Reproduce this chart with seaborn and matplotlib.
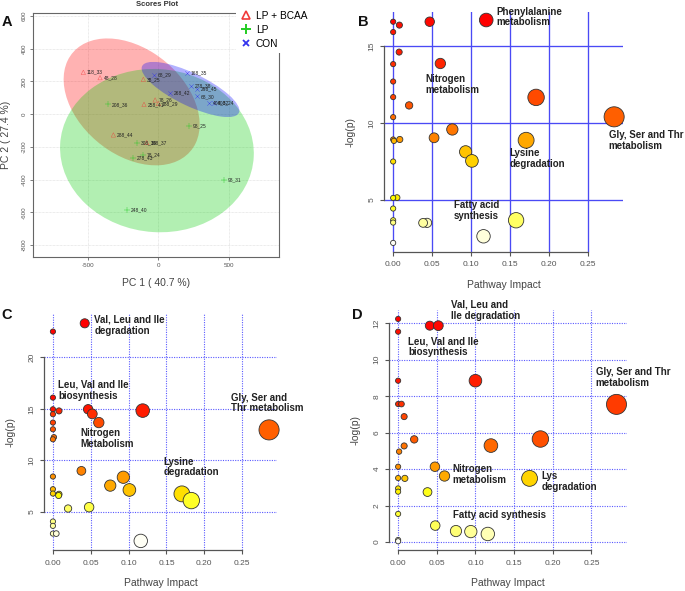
import numpy as np
import pandas as pd
import matplotlib
matplotlib.use("Agg")
import matplotlib.pyplot as plt
import seaborn as sns
from matplotlib.patches import Ellipse
from matplotlib.markers import MarkerStyle
from matplotlib.lines import Line2D
from matplotlib.colors import ListedColormap, hsv_to_rgb

plt.rcParams['font.family'] = ['Liberation Sans', 'DejaVu Sans']
plt.rcParams['lines.linewidth'] = 0.8

W, H = 685, 591

# ---------------- Panel A: PCA scores ----------------
group_names = ['LP + BCAA', 'LP', 'CON']
pca_labels = ['118_33', '48_28', '38_25', '78_26', '188_29', '258_41', '288_44', '188_37',
              '208_36', '98_25', '308_39', '78_24', '278_43', '98_31', '248_40',
              '68_29', '168_35', '278_38', '298_45', '268_42', '68_30', '408_32', '408_24']
pca_group = ['LP + BCAA'] * 8 + ['LP'] * 7 + ['CON'] * 8
pc1 = [-534, -415, -107, -23, 0, -102, -320, -83,
       -360, 221, -149, -111, -178, 470, -223,
       -31, 202, 235, 278, 85, 273, 363, 399]
pc2 = [256, 223, 213, 87, 65, 60, -127, -174,
       60, -72, -174, -249, -266, -404, -585,
       240, 254, 172, 152, 131, 109, 68, 68]
ell_cx = [-190, -10, 229]
ell_cy = [75, -223, 151]
ell_w = [1042, 1380, 746]
ell_h = [674, 998, 204]
ell_angle = [-29, -3, -22]
pca_xticks = [-500, 0, 500]
pca_yticks = [-800, -600, -400, -200, 0, 200, 400, 600]

# ---------------- Panels B, C, D: pathway impact ----------------
xticks_imp = [0.0, 0.05, 0.10, 0.15, 0.20, 0.25]

B_impact = [0, 0.008, 0, 0.0077, 0, 0, 0, 0.0205, 0, 0, 0.0085, 0.001, 0, 0, 0.005, 0, 0, 0, 0,
            0.047, 0.1197, 0.0607, 0.1838, 0.2842, 0.0761, 0.0526, 0.171, 0.0932, 0.1013,
            0.1581, 0.0385, 0.0436, 0.1162]
B_logp = [16.56, 16.34, 15.89, 14.59, 13.81, 12.68, 11.67, 11.13, 10.37, 8.92, 8.92, 8.83, 7.49,
          5.13, 5.15, 4.44, 3.68, 3.53, 2.21,
          16.56, 16.67, 13.85, 11.65, 10.39, 9.57, 9.03, 8.87, 8.12, 7.53,
          3.68, 3.51, 3.51, 2.64]
B_yticks = [5, 10, 15]
B_labels = ['Phenylalanine\nmetabolism', 'Nitrogen\nmetabolism', 'Gly, Ser and Thr\nmetabolism',
            'Lysine\ndegradation', 'Fatty acid\nsynthesis']
B_label_x = [0.1325, 0.0419, 0.277, 0.1496, 0.0782]
B_label_y = [17.54, 13.15, 9.54, 8.35, 4.99]

C_impact = [0, 0.042, 0, 0, 0.008, 0, 0, 0, 0.0013, 0, 0.0465, 0.052, 0.0606, 0.1186, 0.2855,
            0, 0.0376, 0, 0, 0.008, 0.0075, 0.02, 0.0478, 0.0757, 0.093, 0.101, 0.1704, 0.1828,
            0, 0, 0, 0.0044, 0.116]
C_logp = [22.49, 23.29, 16.09, 14.96, 14.8, 14.48, 13.67, 13.02, 12.25, 12.05, 14.96, 14.51,
          13.67, 14.83, 12.96, 8.44, 8.99, 7.21, 6.79, 6.72, 6.6, 5.34, 5.47, 7.56, 8.37, 7.14,
          6.76, 6.11, 4.08, 3.66, 2.91, 2.91, 2.2]
C_yticks = [5, 10, 15, 20]
C_labels = ['Val, Leu and Ile\ndegradation', 'Leu, Val and Ile\nbiosynthesis',
            'Nitrogen\nMetabolism', 'Gly, Ser and\nThr metabolism', 'Lysine\ndegradation']
C_label_x = [0.0545, 0.0066, 0.0363, 0.2346, 0.146]
C_label_y = [24.1, 17.8, 13.13, 16.58, 10.38]

D_impact = [0, 0.041, 0.052, 0, 0, 0.1, 0, 0.0043, 0.0078, 0.2824, 0.0208, 0.0078, 0.0013,
            0.12, 0.184, 0, 0.0476, 0.06, 0, 0.0087, 0, 0, 0.038, 0.17, 0, 0.048, 0.0748,
            0.094, 0.116, 0, 0]
D_logp = [12.24, 11.87, 11.87, 11.54, 8.85, 8.85, 7.57, 7.57, 6.88, 7.55, 5.63, 5.27, 4.96,
          5.29, 5.65, 4.13, 4.13, 3.62, 3.51, 3.49, 2.94, 2.76, 2.74, 3.49, 1.54, 0.9, 0.6,
          0.57, 0.44, 0.11, 0.04]
D_yticks = [0, 2, 4, 6, 8, 10, 12]
D_labels = ['Val, Leu and\nIle degradation', 'Leu, Val and Ile\nbiosynthesis',
            'Gly, Ser and Thr\nmetabolism', 'Nitrogen\nmetabolism', 'Lys\ndegradation',
            'Fatty acid synthesis']
D_label_x = [0.0683, 0.0134, 0.2556, 0.0705, 0.185, 0.0705]
D_label_y = [13.29, 11.28, 9.59, 4.29, 3.9, 1.73]

# ---------------------------------------------------------------
fig = plt.figure(figsize=(W / 100, H / 100), dpi=100)


def add_ax(l, t, r, b):
    return fig.add_axes([l / W, 1 - b / H, (r - l) / W, (b - t) / H])


def heat_cmap(m=256, knee=0.76, gamma=1.4):
    """Heat-style colormap: red -> orange -> yellow -> near white."""
    cols = []
    for p in np.linspace(0, 1, m):
        if p <= knee:
            cols.append(hsv_to_rgb(((p / knee) ** gamma / 6, 1, 1)))
        else:
            s = 0.94 - 0.9 * (p - knee) / (1 - knee)
            cols.append(hsv_to_rgb((1 / 6, s, 1)))
    return ListedColormap(cols)


HEAT = heat_cmap()


def label_axes(ax, box, xlab, ylab, xl_py, yl_px, size=7.5):
    l, t, r, b = box
    ax.set_xlabel(xlab, fontsize=size, color='#444444')
    ax.set_ylabel(ylab, fontsize=size, color='#444444')
    ax.xaxis.set_label_coords(0.5, (b - xl_py) / (b - t))
    ax.yaxis.set_label_coords((yl_px - l) / (r - l), 0.5)
    ax.xaxis.label.set_va('center')
    ax.yaxis.label.set_va('center')


# ---------------- Panel A ----------------
boxA = (33.3, 13.3, 279.3, 256.7)
axA = add_ax(*boxA)
axA.set_xlim(-890, 861)
axA.set_ylim(-872, 617)
axA.set_axisbelow(True)
axA.grid(True, color='#d9d9d9', lw=0.5, ls=(0, (1, 1)))
ell_cols = ['#ff0000', '#00cc00', '#0000ff']
for cx, cy, w, h, a, c in zip(ell_cx, ell_cy, ell_w, ell_h, ell_angle, ell_cols):
    axA.add_patch(Ellipse((cx, cy), w, h, angle=a, facecolor=c, alpha=0.3,
                          edgecolor='none', zorder=1))

dfA = pd.DataFrame({'label': pca_labels, 'group': pca_group, 'PC1': pc1, 'PC2': pc2})
mk = {'LP + BCAA': MarkerStyle('^', fillstyle='none'), 'LP': '+', 'CON': 'x'}
pt_cols = {'LP + BCAA': '#f03a3a', 'LP': '#22cc22', 'CON': '#3333ee'}
pt_size = {'LP + BCAA': 10, 'LP': 14, 'CON': 10}
for g in group_names:
    sub = dfA[dfA['group'] == g]
    sns.scatterplot(data=sub, x='PC1', y='PC2', marker=mk[g], color=pt_cols[g],
                    s=pt_size[g], ax=axA, zorder=3, legend=False)
for _, row in dfA.iterrows():
    axA.annotate(row['label'], (row['PC1'], row['PC2']), xytext=(2.6, 0),
                 textcoords='offset points', fontsize=3.5, color='#222222',
                 va='center', ha='left', zorder=4)
axA.set_xticks(pca_xticks)
axA.set_yticks(pca_yticks)
axA.set_xticklabels([str(v) for v in pca_xticks])
axA.set_yticklabels([str(v) for v in pca_yticks], rotation=90, va='center')
axA.tick_params(axis='both', direction='out', length=2, width=0.6, color='#666666',
                labelsize=4.5, labelcolor='#555555', pad=2.5)
for s in axA.spines.values():
    s.set_color('#666666')
    s.set_linewidth(0.8)
label_axes(axA, boxA, 'PC 1 ( 40.7 %)', 'PC 2 ( 27.4 %)', 283, 6, size=7.5)
fig.text(157 / W, 1 - 5 / H, 'Scores Plot', fontsize=5.5, fontweight='bold',
         ha='center', va='center', color='#333333')

handles = [Line2D([], [], ls='none', marker=MarkerStyle('^', fillstyle='none'),
                  color='#f03a3a', markersize=6, mew=1.2),
           Line2D([], [], ls='none', marker='+', color='#22cc22', markersize=7, mew=1.4),
           Line2D([], [], ls='none', marker='x', color='#3333ee', markersize=5, mew=1.3)]
fig.legend(handles, group_names, loc='upper left', bbox_to_anchor=(236 / W, 1 - 6 / H),
           frameon=True, facecolor='white', edgecolor='none', framealpha=1,
           fontsize=7.3, handlelength=1.0, handletextpad=0.5, borderpad=0.45,
           labelspacing=0.4, borderaxespad=0)


# ---------------- Bubble panels ----------------
def bubble_panel(box, impact, logp, yticks, ylim, dotted, labels, lx, ly):
    ax = add_ax(*box)
    ax.set_xlim(-0.0114, 0.2956)
    ax.set_ylim(*ylim)
    gkw = dict(color='#5a5aff', lw=0.8, ls=(0, (1, 1.2)), zorder=0) if dotted else \
        dict(color='#4a4af5', lw=0.95, ls='-', zorder=0)
    for gx in xticks_imp:
        ax.axvline(gx, **gkw)
    for gy in yticks:
        ax.axhline(gy, **gkw)
    df = pd.DataFrame({'impact': impact, 'logp': logp})
    n = len(df)
    df['rank'] = df['logp'].rank(ascending=False, method='first') - 1
    df = df.sort_values('logp', ascending=False)
    sns.scatterplot(data=df, x='impact', y='logp', hue='rank',
                    palette=HEAT, hue_norm=(0, n - 1),
                    size='impact', sizes=(14, 210), size_norm=(0, 0.2855),
                    edgecolor='#333333', linewidth=0.6, legend=False, ax=ax,
                    zorder=3, clip_on=False)
    for t, x, y in zip(labels, lx, ly):
        ax.text(x, y, t, fontsize=7, fontweight='bold', color='#222222',
                ha='left', va='top', linespacing=1.1, zorder=5)
    for s in ['top', 'right']:
        ax.spines[s].set_visible(False)
    ax.spines['left'].set_bounds(yticks[0], yticks[-1])
    ax.spines['bottom'].set_bounds(xticks_imp[0], xticks_imp[-1])
    for s in ['left', 'bottom']:
        ax.spines[s].set_color('#555555')
        ax.spines[s].set_linewidth(0.9)
    ax.set_xticks(xticks_imp)
    ax.set_xticklabels(['%.2f' % v for v in xticks_imp])
    ax.set_yticks(yticks)
    ax.set_yticklabels([str(v) for v in yticks], rotation=90, va='center')
    ax.tick_params(axis='both', direction='out', length=2.7, width=0.8, color='#555555',
                   labelsize=6, labelcolor='#555555', pad=3.5)
    ax.tick_params(axis='x', pad=4.2)
    label_axes(ax, box, 'Pathway Impact', '-log(p)', box[3] + 33, box[0] - 34)
    return ax


boxB = (384.3, 11.7, 623, 251.7)
bubble_panel(boxB, B_impact, B_logp, B_yticks, (1.64, 17.21), False,
             B_labels, B_label_x, B_label_y)
boxC = (44.3, 313.3, 276.7, 550)
bubble_panel(boxC, C_impact, C_logp, C_yticks, (1.32, 24.26), True,
             C_labels, C_label_x, C_label_y)
boxD = (389.3, 310, 626.7, 550)
bubble_panel(boxD, D_impact, D_logp, D_yticks, (-0.44, 12.73), True,
             D_labels, D_label_x, D_label_y)

# panel letters
for letter, (px, py) in zip('ABCD', [(7, 22.5), (363, 22), (7, 315), (357, 315)]):
    fig.text(px / W, 1 - py / H, letter, fontsize=10.5, fontweight='bold',
             ha='center', va='center', color='#111111')

fig.savefig('out.png', dpi=100)
